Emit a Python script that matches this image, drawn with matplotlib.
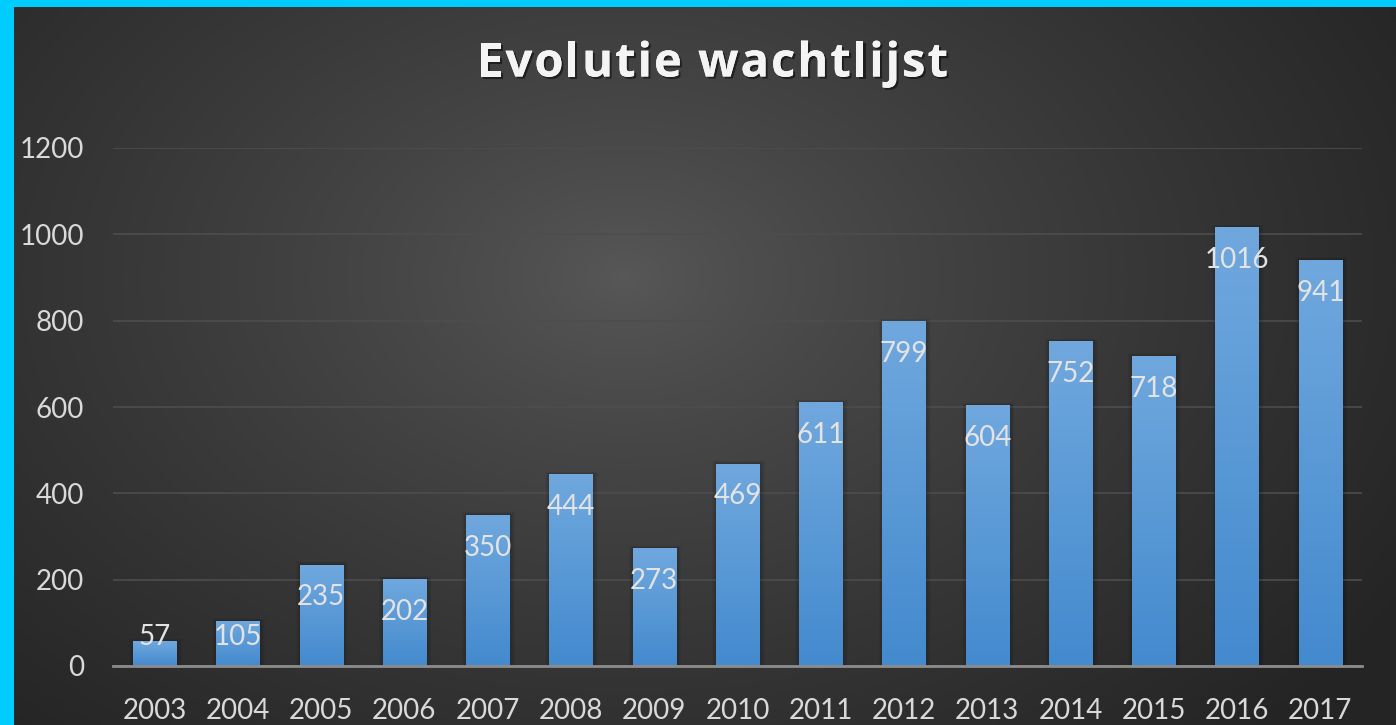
import matplotlib
matplotlib.use("Agg")
import matplotlib.pyplot as plt
import matplotlib.patheffects as pe
import numpy as np

years = ["2003", "2004", "2005", "2006", "2007", "2008", "2009", "2010",
         "2011", "2012", "2013", "2014", "2015", "2016", "2017"]
values = [57, 105, 235, 202, 350, 444, 273, 469, 611, 799, 604, 752, 718, 1016, 941]
yticks = [0, 200, 400, 600, 800, 1000, 1200]
title = "Evolutie wachtlijst"

plt.rcParams['font.family'] = ['Lato', 'DejaVu Sans']

W, H = 1396, 725
fig = plt.figure(figsize=(W / 100, H / 100), dpi=100)
fig.patch.set_facecolor('#00CCFF')

# dark radial gradient panel, cyan strip on top and left
bg = fig.add_axes([14 / W, 0, 1 - 14 / W, 1 - 7 / H])
bg.set_axis_off()
yy, xx = np.mgrid[0:718, 0:1382]
d = np.sqrt(((xx - 610) / 900.0) ** 2 + ((yy - 270) / 620.0) ** 2)
d = np.clip(d, 0, 1)
lum = 0.345 - (0.345 - 0.145) * d ** 0.8
img = np.dstack([lum, lum, lum])
bg.imshow(img, aspect='auto', extent=[0, 1, 0, 1], origin='upper')
bg.set_xlim(0, 1)
bg.set_ylim(0, 1)

ax = fig.add_axes([113 / W, 1 - 666 / H, (1362 - 113) / W, (666 - 148) / H])
ax.patch.set_alpha(0)
x = np.arange(len(years))
bw = 0.52

# bar gradient (light top to darker bottom)
top = np.array([0x70, 0xA8, 0xDE]) / 255
bot = np.array([0x43, 0x8A, 0xCE]) / 255
grad = np.linspace(0, 1, 256)[:, None]
gimg = top[None, None, :] * (1 - grad[:, :, None]) + bot[None, None, :] * grad[:, :, None]

for i, v in enumerate(values):
    # soft shadow around the bar
    for k in range(1, 6):
        ax.bar(x[i] + 0.01, v + k * 1.2, width=bw + k * 0.022, color='black',
               alpha=0.04, zorder=2, linewidth=0)
    b = ax.bar(x[i], v, width=bw, color=top, zorder=3, linewidth=0)[0]
    im = ax.imshow(gimg, extent=[x[i] - bw / 2, x[i] + bw / 2, 0, v],
                   aspect='auto', zorder=3, origin='upper')
    im.set_clip_path(b)
    ly = max(v - 76, 68)
    ax.text(x[i], ly, str(v), ha='center', va='center', fontsize=20,
            color='#e3e3e3', zorder=5)

ax.set_xlim(-0.5, len(years) - 0.5)
ax.set_ylim(0, 1200)
ax.set_yticks(yticks)
ax.set_yticklabels([str(t) for t in yticks])
ax.set_xticks(x)
ax.set_xticklabels(years)
ax.tick_params(axis='both', length=0, labelsize=20, labelcolor='#d9d9d9')
ax.tick_params(axis='y', pad=21)
ax.tick_params(axis='x', pad=23)
ax.grid(axis='y', color='#4d4d4d', linewidth=1.2, zorder=0)
ax.set_axisbelow(True)
for s in ['top', 'right', 'left']:
    ax.spines[s].set_visible(False)
ax.spines['bottom'].set_color('#8c8c8c')
ax.spines['bottom'].set_linewidth(2)
ax.spines['bottom'].set_zorder(6)

# title with letter spacing, drawn character by character
tkw = dict(fontsize=34, fontweight='bold', family=['Open Sans', 'DejaVu Sans'])
renderer = fig.canvas.get_renderer()

def text_w(s):
    t = fig.text(0, 0, s + 'x', **tkw)
    w = t.get_window_extent(renderer).width
    t.remove()
    return w

wx = text_w('')
full = text_w(title) - wx
target_w = 948 - 477
sp = (target_w - full) / (len(title) - 1)
x0 = 477
shadow = [pe.withSimplePatchShadow(offset=(1.5, -1.5), shadow_rgbFace='black', alpha=0.5),
          pe.Normal()]
for i, ch in enumerate(title):
    if ch == ' ':
        continue
    px = x0 + (text_w(title[:i]) - wx) + i * sp
    t = fig.text(px / W, 1 - 64 / H, ch, ha='left', va='center', color='#f4f4f4', **tkw)
    t.set_path_effects(shadow)

fig.savefig("out.png", dpi=100, facecolor=fig.get_facecolor())
